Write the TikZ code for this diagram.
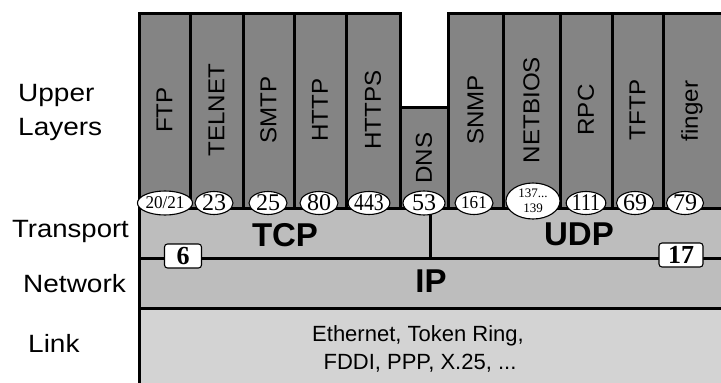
\documentclass[tikz,border=0pt]{standalone}
\usepackage{fontspec}
\setmainfont{Liberation Sans}
\newfontfamily\numfont{Liberation Serif}
\usetikzlibrary{shapes.geometric}
\definecolor{colgray}{HTML}{848484}
\definecolor{midgray}{HTML}{BDBDBD}
\definecolor{linkgray}{HTML}{D3D3D3}
\newcommand{\fsz}[1]{\fontsize{#1}{#1}\selectfont}
\begin{document}
\begin{tikzpicture}[x=1pt,y=-1pt,
  thickline/.style={line width=3pt},
  colbox/.style={fill=colgray, draw=black, line width=3pt},
  coltext/.style={rotate=90, font=\fsz{23}, inner sep=0},
  port/.style={ellipse, draw=black, line width=1.1pt, fill=white, inner sep=0,
    minimum height=23, minimum width=38, font=\numfont\fsz{24}},
  proto/.style={rectangle, rounded corners=3pt, draw=black, line width=1.1pt,
    fill=white, minimum height=24, inner sep=0, font=\numfont\bfseries\fsz{26}},
  layer/.style={anchor=base west, font=\fsz{25}, inner sep=0},
  big/.style={anchor=base, font=\bfseries\fsz{33}, inner sep=0},
  linktext/.style={anchor=base, font=\fsz{22}, inner sep=0}
]
\clip (0,0) rectangle (721,383);
% background regions
\fill[midgray] (139,208) rectangle (740,308);
\fill[linkgray] (139,308) rectangle (740,400);
% upper layer columns
\foreach \a/\b/\t/\n in {139/190/FTP/ftp, 190/243/TELNET/telnet, 243/294/SMTP/smtp,
  294/346/HTTP/http, 346/400/HTTPS/https, 448/503/SNMP/snmp, 503/560/NETBIOS/netbios,
  560/612/RPC/rpc, 612/663/TFTP/tftp}{
  \filldraw[colbox] (\a,13) rectangle (\b,208);
  \node[coltext] (\n) at ({(\a+\b)/2},110) {\scalebox{1.05}[1]{\t}};
}
\filldraw[colbox] (663,13) rectangle (740,208);
\node[coltext] (finger) at (692,111) {\scalebox{1.05}[1]{finger}};
\filldraw[colbox] (400,107) rectangle (448,208);
\node[coltext] (dns) at (424,158) {\scalebox{1.05}[1]{DNS}};
% layer lines
\draw[thickline] (139,258) -- (740,258);
\draw[thickline] (139,308) -- (740,308);
\draw[thickline] (430,208) -- (430,258);
\draw[thickline] (139,13) -- (139,400);
% protocol names
\node[big] (tcp) at (285,246) {TCP};
\node[big] (udp) at (579,245) {UDP};
\node[big] (ip) at (431,292) {IP};
\node[linktext] (link1) at (418,341) {Ethernet, Token Ring,};
\node[linktext] (link2) at (420,369) {FDDI, PPP, X.25, ...};
% port ellipses
\node[port, minimum width=50, minimum height=24, font=\numfont\fsz{18}] (p2021) at (165,203) {\scalebox{0.95}[1]{20/21}};
\node[port] (p23) at (214,203) {23};
\node[port] (p25) at (268,203) {25};
\node[port] (p80) at (319,203) {80};
\node[port] (p443) at (369,203) {\scalebox{0.82}[1]{443}};
\node[port, minimum width=42, minimum height=24] (p53) at (424,203) {53};
\node[port, font=\numfont\fsz{18}] (p161) at (474,203) {\scalebox{0.95}[1]{161}};
\node[port, minimum width=54, minimum height=36, font=\numfont\fsz{13}, align=center] (p137) at (533,201) {137...\\[2pt]139};
\node[port] (p111) at (586,203) {\scalebox{0.82}[1]{111}};
\node[port, minimum width=37] (p69) at (635,203) {69};
\node[port, minimum width=37] (p79) at (685,203) {79};
% protocol numbers
\node[proto, minimum width=37] (n6) at (183,256) {6};
\node[proto, minimum width=44] (n17) at (681,255) {17};
% layer labels
\node[layer] (upper) at (18,101) {\scalebox{1.12}[1]{Upper}};
\node[layer] (layers) at (18,135) {\scalebox{1.12}[1]{Layers}};
\node[layer] (transport) at (12,237) {\scalebox{1.1}[1]{Transport}};
\node[layer] (network) at (23,292) {\scalebox{1.12}[1]{Network}};
\node[layer] (link) at (28,352) {\scalebox{1.12}[1]{Link}};
\end{tikzpicture}
\end{document}
